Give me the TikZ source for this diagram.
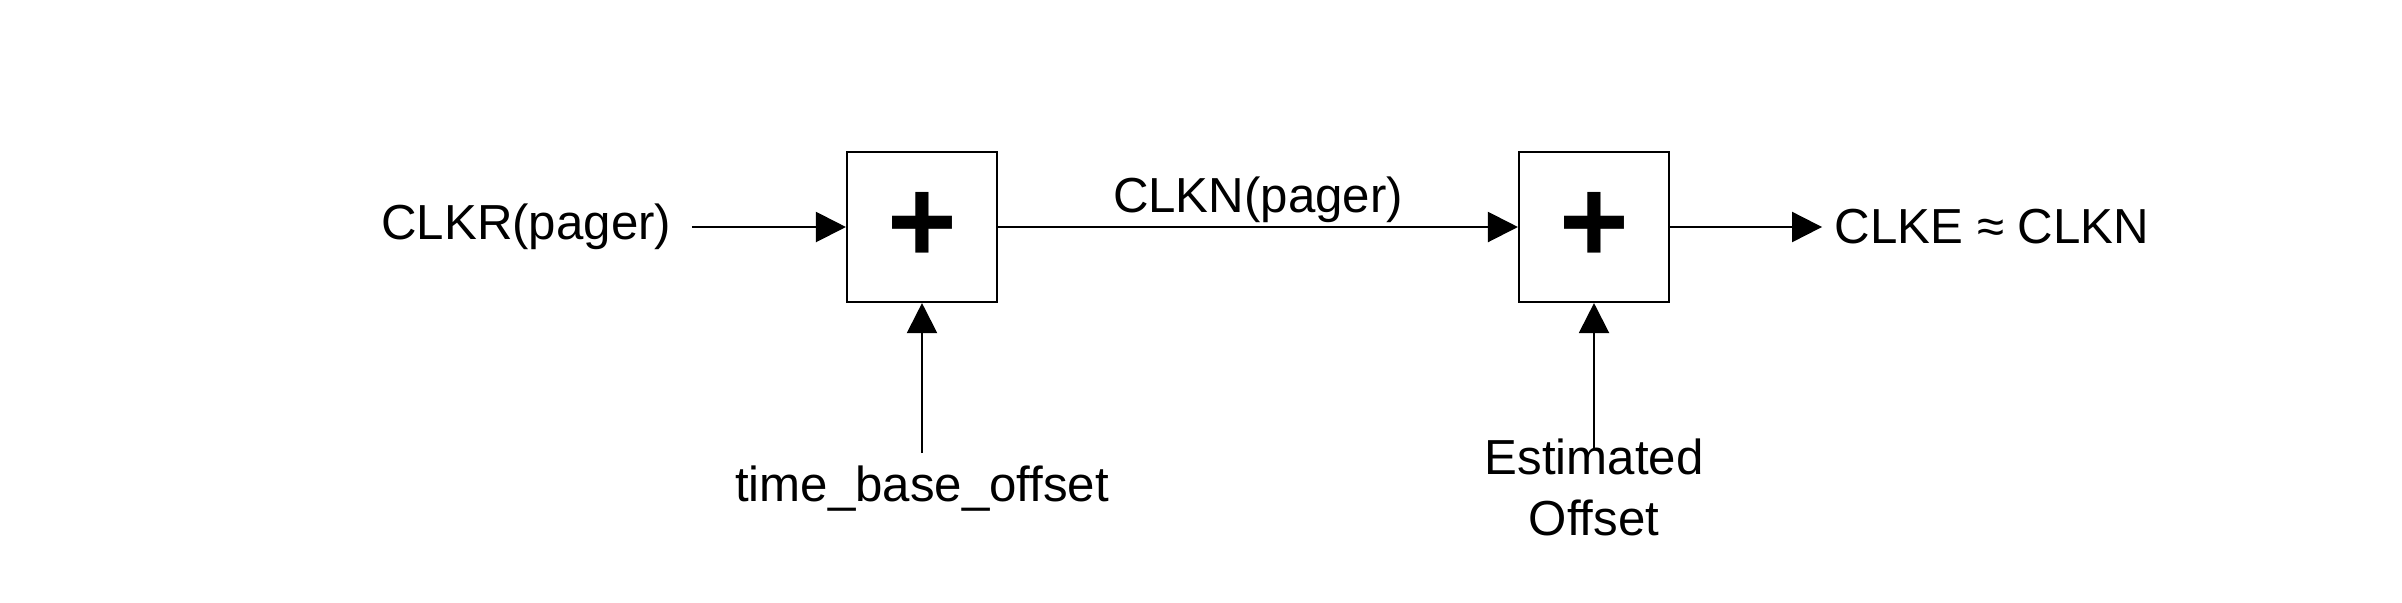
\documentclass[tikz,border=0pt]{standalone}
\usepackage{fontspec}
\setmainfont{Liberation Sans}
\usetikzlibrary{arrows.meta,positioning}

\begin{document}
\begin{tikzpicture}[line width=0.6pt,>={Triangle[length=3mm,width=3mm]},
  every node/.style={font=\fontsize{14}{17.3}\selectfont},
  sum/.style={draw,minimum size=1.5cm,inner sep=0pt,font=\fontsize{34}{34}\selectfont\bfseries},
  lab/.style={midway,above=1pt,inner sep=0pt}]
\useasboundingbox (0,0) rectangle (24.02,6.02);
\node[sum] (sum1) at (9.22,3.75) {+};
\node[sum] (sum2) at (15.94,3.75) {+};
\node (clkr) [left=1.62cm of sum1] {CLKR(pager)};
\node (clke) [right=1.52cm of sum2] {CLKE ≈ CLKN};
\node (tbo) [below=1.5cm of sum1] {time\_base\_offset};
\node (est) [below=1.35cm of sum2,inner sep=0pt,align=center] {Estimated\\Offset};
\draw[->,shorten <=0.08cm] (clkr) -- (sum1);
\draw[->] (sum1) -- (sum2) node[lab]{CLKN(pager)};
\draw[->] (sum2) -- (clke);
\draw[->] (tbo) -- (sum1);
\draw[->,shorten <=-0.1cm] (est) -- (sum2);
\end{tikzpicture}
\end{document}
